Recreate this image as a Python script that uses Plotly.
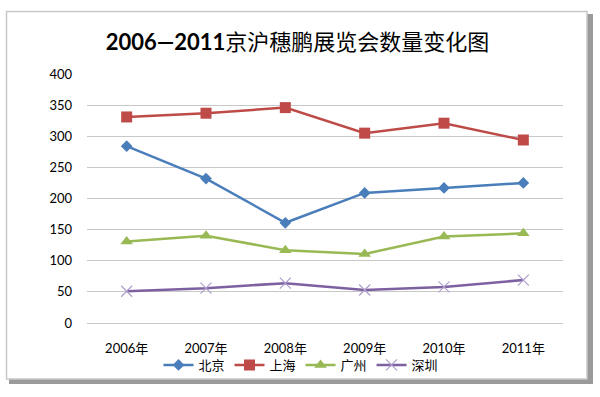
import plotly.graph_objects as go

years = ["2006年", "2007年", "2008年", "2009年", "2010年", "2011年"]
beijing = [284, 232, 161, 209, 217, 225]
shanghai = [331, 337, 346, 305, 321, 294]
guangzhou = [131, 140, 117, 111, 139, 144]
shenzhen = [51, 56, 64, 53, 58, 69]
y_ticks = [0, 50, 100, 150, 200, 250, 300, 350, 400]

W, H = 600, 397
L, R, T, B = 87, 37, 74, 74
pw, ph = W - L - R, H - T - B


def px(x):
    return (x - L) / pw


def py(y):
    return (H - B - y) / ph


FONT = "Lato, 'Noto Sans CJK SC', sans-serif"

fig = go.Figure()
series = [
    ("北京", beijing, "#4A7EBB", "diamond", 9, None),
    ("上海", shanghai, "#BE4B48", "square", 11, None),
    ("广州", guangzhou, "#98B954", "triangle-up", 11, None),
    ("深圳", shenzhen, "#7D60A0", "x-thin", 11, "#AE9FCC"),
]
for name, vals, col, sym, sz, mline in series:
    marker = dict(symbol=sym, size=sz, color=col)
    if mline:
        marker = dict(symbol=sym, size=sz, color=mline, line=dict(color=mline, width=1.2))
    fig.add_trace(go.Scatter(x=years, y=vals, name=name, mode="lines+markers",
                             line=dict(color=col, width=2.5), marker=marker))

shapes = [
    dict(type="rect", xref="paper", yref="paper", x0=px(587), x1=px(593), y0=py(384), y1=py(14),
         fillcolor="#9a9a9a", line=dict(width=0), layer="below"),
    dict(type="rect", xref="paper", yref="paper", x0=px(9), x1=px(593), y0=py(384), y1=py(379),
         fillcolor="#9a9a9a", line=dict(width=0), layer="below"),
    dict(type="rect", xref="paper", yref="paper", x0=px(6.5), x1=px(587), y0=py(379), y1=py(11.5),
         fillcolor="rgba(0,0,0,0)", line=dict(color="#c8c8c8", width=1.5), layer="below"),
]

fig.update_layout(
    width=W, height=H,
    margin=dict(l=L, r=R, t=T, b=B, autoexpand=False),
    paper_bgcolor="white", plot_bgcolor="white",
    font=dict(family=FONT, size=13, color="#000000"),
    title=dict(text="<b>2006—2011</b>京沪穗鹏展览会数量变化图", x=297.5 / W, xanchor="center",
               xref="container", yref="container",
               y=1 - 42 / H, yanchor="middle", font=dict(family=FONT, size=22, color="#000000")),
    xaxis=dict(showgrid=False, showline=False, ticks="", tickfont=dict(size=13),
               range=[-0.5, 5.5], automargin=False, ticklabelstandoff=16),
    yaxis=dict(range=[0, 400], tickvals=y_ticks, showgrid=True, gridcolor="#c8c8c8", gridwidth=1,
               zeroline=True, zerolinecolor="#c8c8c8", zerolinewidth=1, showline=False, ticks="",
               ticklabelstandoff=14, tickfont=dict(size=13), automargin=False),
    legend=dict(orientation="h", x=px(301), xanchor="center", y=py(365), yanchor="middle",
                font=dict(size=13), itemwidth=30, tracegroupgap=0, bgcolor="rgba(0,0,0,0)"),
    shapes=shapes,
)

fig.write_html("out.html", config={"displayModeBar": False},
               post_script="document.body.style.margin='0';")
